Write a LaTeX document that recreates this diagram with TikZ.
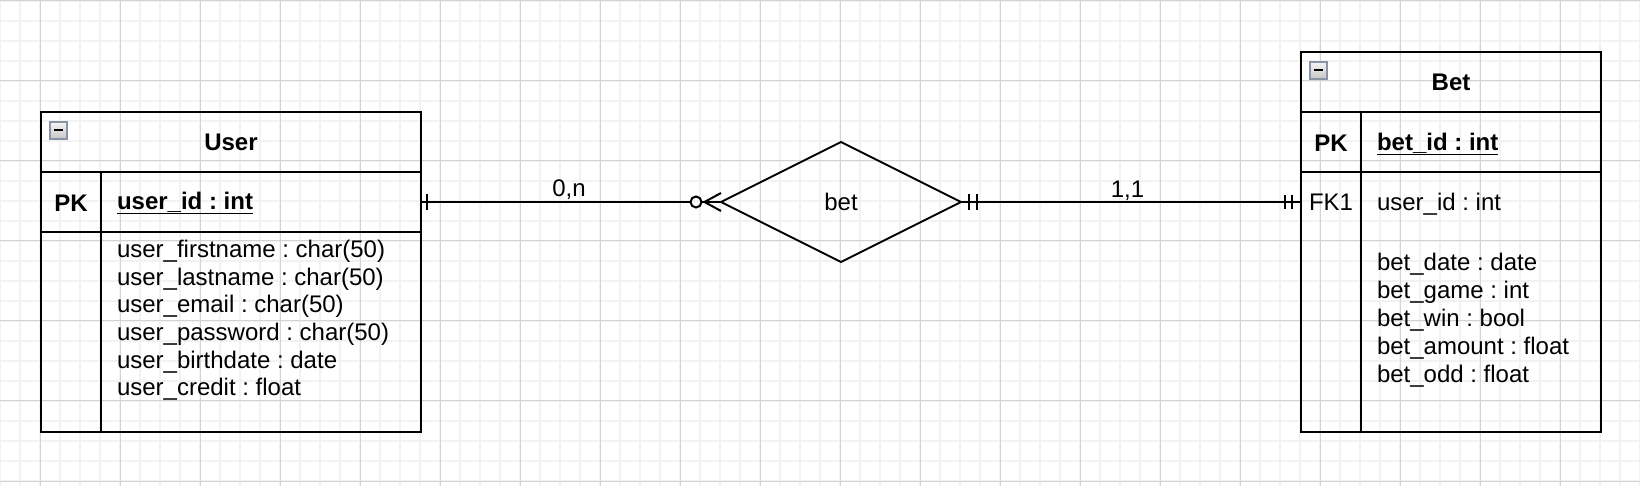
\documentclass[tikz,border=0pt]{standalone}
\usepackage{fontspec}
\setmainfont{Liberation Sans}
\usetikzlibrary{shapes.geometric,calc}
\definecolor{gridminor}{HTML}{F2F2F2}
\definecolor{gridmajor}{HTML}{D3D3D3}
\definecolor{iconborder}{HTML}{8A94A6}
\frenchspacing
\begin{document}
\begin{tikzpicture}[x=0.5pt,y=-0.5pt,
  every node/.style={font=\fontsize{12}{14}\selectfont\frenchspacing, inner sep=0pt, outer sep=0pt},
  bold/.style={font=\fontsize{12}{14}\selectfont\frenchspacing\bfseries},
  tbl/.style={draw, line width=1pt, inner sep=0pt},
  tline/.style={line width=1pt},
  conn/.style={line width=1pt},
  icon/.style={draw=iconborder, line width=0.6pt, minimum size=8.5pt, top color=white!92!gray, bottom color=gray!45},
  field/.style={anchor=base west},
  uline/.style={line width=0.75pt}]
\useasboundingbox (0,0) rectangle (1640,486);
\fill[white] (0,0) rectangle (1640,486);
% grid
\foreach \x in {0,20,...,1640} \draw[gridminor, line width=0.6pt] (\x,0) -- (\x,486);
\foreach \y in {1,21,...,481} \draw[gridminor, line width=0.6pt] (0,\y) -- (1640,\y);
\foreach \x in {40,120,...,1640} \draw[gridmajor, line width=0.5pt] (\x,0) -- (\x,486);
\foreach \y in {1,81,...,481} \draw[gridmajor, line width=0.5pt] (0,\y) -- (1640,\y);

% User table
\node[tbl, minimum width=190pt, minimum height=160pt] (user) at (231,272) {};
\draw[tline] (user.west |- 0,172) -- (user.east |- 0,172);
\draw[tline] (user.west |- 0,232) -- (user.east |- 0,232);
\draw[tline] (101,172) -- (user.south -| 101,0);
\node[icon] (uicon) at (58.5,130.5) {};
\draw[line width=1pt] ([xshift=-2.3pt]uicon.center) -- ([xshift=2.3pt]uicon.center);
\node[bold] (uh) at (231,142) {User};
\node[bold] (upk) at (71,203) {PK};
\node[bold, anchor=base west] (uid) at (117,210) {user\_id : int};
\draw[uline] ([yshift=-1.7pt]uid.base west) -- ([yshift=-1.7pt]uid.base east);
\node[field] (u1) at (117,257.5) {user\_firstname : char(50)};
\node[field] (u2) at (117,285.2) {user\_lastname : char(50)};
\node[field] (u3) at (117,312.9) {user\_email : char(50)};
\node[field] (u4) at (117,340.6) {user\_password : char(50)};
\node[field] (u5) at (117,368.3) {user\_birthdate : date};
\node[field] (u6) at (117,396.0) {user\_credit : float};

% Bet table
\node[tbl, minimum width=150pt, minimum height=190pt] (bet) at (1451,242) {};
\draw[tline] (bet.west |- 0,112) -- (bet.east |- 0,112);
\draw[tline] (bet.west |- 0,172) -- (bet.east |- 0,172);
\draw[tline] (1361,112) -- (bet.south -| 1361,0);
\node[icon] (bicon) at (1318.5,70.5) {};
\draw[line width=1pt] ([xshift=-2.3pt]bicon.center) -- ([xshift=2.3pt]bicon.center);
\node[bold] (bh) at (1451,82) {Bet};
\node[bold] (bpk) at (1331,143) {PK};
\node[bold, anchor=base west] (bid) at (1377,151) {bet\_id : int};
\draw[uline] ([yshift=-1.7pt]bid.base west) -- ([yshift=-1.7pt]bid.base east);
\node[field] (bfk) at (1309,211) {FK1};
\node[field] (bu) at (1377,211) {user\_id : int};
\node[field] (b1) at (1377,270.7) {bet\_date : date};
\node[field] (b2) at (1377,298.6) {bet\_game : int};
\node[field] (b3) at (1377,326.5) {bet\_win : bool};
\node[field] (b4) at (1377,354.4) {bet\_amount : float};
\node[field] (b5) at (1377,382.3) {bet\_odd : float};

% relationship
\node[diamond, draw, line width=1pt, minimum width=120pt, minimum height=60pt, inner sep=0pt] (rel) at (841,202) {bet};

% left connector (0,n)
\coordinate (ua) at (rel.west -| user.east);
\node[circle, draw, line width=1pt, minimum size=5.5pt, inner sep=0pt] (zc) at (696,202) {};
\draw[conn] (ua) -- (zc.west);
\draw[conn] (zc.east) -- (rel.west);
\draw[conn] ($(rel.west)+(0,-9)$) -- ($(zc.east)+(3,0)$) -- ($(rel.west)+(0,9)$);
\draw[conn] ($(ua)+(6,-8)$) -- ($(ua)+(6,8)$);
\node[anchor=base] (lab1) at (569,197) {0,n};

% right connector (1,1)
\coordinate (ba) at (rel.east -| bet.west);
\draw[conn] (rel.east) -- (ba);
\draw[conn] ($(rel.east)+(8,-8)$) -- ($(rel.east)+(8,8)$);
\draw[conn] ($(rel.east)+(16,-8)$) -- ($(rel.east)+(16,8)$);
\draw[conn] ($(ba)+(-16,-7)$) -- ($(ba)+(-16,7)$);
\draw[conn] ($(ba)+(-9,-7)$) -- ($(ba)+(-9,7)$);
\node[anchor=base] (lab2) at (1127.5,198) {1,1};
\end{tikzpicture}
\end{document}
